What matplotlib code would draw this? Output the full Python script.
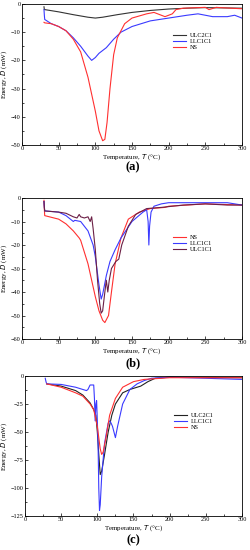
import matplotlib
matplotlib.use('Agg')
import matplotlib.pyplot as plt
from matplotlib.ticker import MultipleLocator

plt.rcParams['font.family'] = ['Liberation Serif', 'DejaVu Serif']

# ---- panel (a) ----
a_ulc_t = [30, 30.5, 31, 50, 70, 90, 100, 110, 130, 150, 175, 200, 225, 250, 275, 300]
a_ulc_e = [-1, -2, -2, -2.8, -3.8, -4.7, -5, -4.7, -3.8, -3, -2.3, -1.8, -1.5, -1.3, -1.4, -1.5]
a_llc_t = [30, 30.5, 31, 40, 50, 60, 70, 80, 90, 95, 100, 105, 115, 125, 135, 150, 175, 200, 225, 240, 260, 280, 290, 300]
a_llc_e = [-2, -4, -5.5, -7, -8, -9.5, -12, -15, -18.5, -20, -19, -17.5, -15.5, -12.5, -10, -8, -6, -5, -4, -3.5, -4.5, -4.5, -4, -5]
a_ns_t = [30, 31, 40, 50, 60, 70, 80, 90, 100, 105, 110, 113, 116, 120, 125, 130, 140, 150, 170, 180, 190, 195, 200, 205, 210, 220, 250, 255, 265, 270, 300]
a_ns_e = [-6.5, -6.7, -7, -8, -9.5, -12.5, -17, -26, -38, -45, -48.5, -48, -42, -30, -18, -12, -7, -5, -3.5, -3, -4, -4.5, -4, -3.5, -2, -1.5, -1.2, -2, -1.2, -1.3, -1.7]

# ---- panel (b) ----
b_ns_t = [30, 30.5, 31, 50, 60, 70, 78, 80, 90, 100, 105, 110, 113, 118, 122, 127, 135, 145, 160, 175, 195, 200, 250, 300]
b_ns_e = [-1, -5, -7.5, -9, -11, -14, -17, -18, -28, -42, -48, -52, -53, -50, -40, -28, -17, -9, -6, -4.5, -4, -3.5, -2.5, -3]
b_llc_t = [30, 30.5, 31, 50, 60, 70, 72, 80, 90, 97, 100, 105, 108, 110, 115, 120, 127, 135, 150, 165, 170, 172, 173, 174, 176, 180, 190, 200, 250, 280, 300]
b_llc_e = [-1.5, -4, -5.5, -6, -7.5, -10, -9.5, -10, -14, -20, -25, -37, -43, -41, -33, -27, -22, -17, -10, -6, -5, -10, -20, -12, -6, -3.5, -2.5, -2, -2, -2, -3]
b_ulc_t = [30, 30.5, 31, 50, 60, 70, 75, 78, 80, 85, 90, 93, 95, 97, 100, 103, 106, 108, 110, 113, 115, 117, 119, 122, 128, 132, 136, 145, 155, 170, 190, 220, 250, 280, 300]
b_ulc_e = [-1.5, -4, -5.5, -6, -6.5, -8, -8.5, -7, -8, -8.5, -8, -10, -8, -13, -22, -35, -45, -49, -48, -40, -35, -40, -35, -30, -27, -26, -20, -12, -7, -4.5, -4, -3, -2.5, -3, -3]

# ---- panel (c) ----
c_ulc_t = [30, 50, 70, 80, 90, 95, 98, 100, 102, 104, 106, 110, 115, 120, 125, 130, 135, 145, 160, 170, 180, 200, 300]
c_ulc_e = [-7, -9, -13, -17, -24, -30, -35, -50, -70, -88, -85, -70, -50, -35, -25, -20, -15, -12, -9, -5, -2, -1, -1.5]
c_llc_t = [28, 29, 30, 50, 70, 85, 87, 90, 95, 96, 97, 98, 99, 100, 101, 102, 103, 104, 106, 110, 115, 117, 119, 121, 123, 125, 128, 135, 145, 155, 165, 175, 200, 300]
c_llc_e = [-2, -5, -7, -7.5, -10, -13, -12, -8, -8, -20, -40, -25, -22, -40, -60, -100, -120, -115, -90, -60, -42, -40, -42, -45, -50, -55, -45, -25, -12, -7, -4, -2, -1, -3]
c_ns_t = [30, 50, 70, 80, 90, 95, 100, 104, 106, 108, 112, 117, 125, 135, 150, 165, 200, 300]
c_ns_e = [-7, -10, -15, -18, -25, -30, -45, -65, -70, -68, -55, -35, -20, -10, -5, -3, -1.5, -1.5]

fig = plt.figure(figsize=(2.51, 5.5), dpi=100)

def style(ax, ylim, ystep, yminor):
    ax.set_xlim(0, 300)
    ax.set_ylim(*ylim)
    ax.xaxis.set_major_locator(MultipleLocator(50))
    ax.xaxis.set_minor_locator(MultipleLocator(25))
    ax.yaxis.set_major_locator(MultipleLocator(ystep))
    ax.yaxis.set_minor_locator(MultipleLocator(yminor))
    ax.tick_params(which='both', direction='in', labelsize=4.5, pad=1, width=0.5)
    ax.tick_params(which='major', length=2.5)
    ax.tick_params(which='minor', length=1.5)
    for s in ax.spines.values():
        s.set_linewidth(0.6)
    ax.set_xlabel('Temperature, $\\it{T}$ (°C)', fontsize=5, labelpad=0.5)
    ax.set_ylabel('Energy, $\\it{D}$ (mW)', fontsize=5, labelpad=1)

lw = 0.8

ax1 = fig.add_axes([0.0876, 0.7364, 0.8765, 0.2564])
ax1.plot(a_ulc_t, a_ulc_e, color='#333333', lw=lw, label='ULC2C1')
ax1.plot(a_llc_t, a_llc_e, color='#3a3aff', lw=lw, label='LLC1C1')
ax1.plot(a_ns_t, a_ns_e, color='#ff3030', lw=lw, label='NS')
style(ax1, (-50, 0), 10, 5)
ax1.legend(loc='upper left', bbox_to_anchor=(0.67, 0.82), fontsize=4.5, frameon=False,
           handlelength=2.2, labelspacing=0.1, borderpad=0, handletextpad=0.6)
fig.text(0.53, 0.696, '(a)', ha='center', va='center', fontsize=9, fontweight='bold')

ax2 = fig.add_axes([0.0876, 0.3836, 0.8765, 0.2564])
ax2.plot(b_ns_t, b_ns_e, color='#ff3030', lw=lw, label='NS')
ax2.plot(b_llc_t, b_llc_e, color='#3a3aff', lw=lw, label='LLC1C1')
ax2.plot(b_ulc_t, b_ulc_e, color='#6b1f45', lw=lw, label='ULC1C1')
style(ax2, (-60, 0), 10, 5)
ax2.legend(loc='upper left', bbox_to_anchor=(0.67, 0.76), fontsize=4.5, frameon=False,
           handlelength=2.2, labelspacing=0.1, borderpad=0, handletextpad=0.6)
fig.text(0.53, 0.340, '(b)', ha='center', va='center', fontsize=9, fontweight='bold')

ax3 = fig.add_axes([0.0996, 0.0618, 0.8645, 0.2545])
ax3.plot(c_ulc_t, c_ulc_e, color='#222222', lw=lw, label='ULC2C1')
ax3.plot(c_llc_t, c_llc_e, color='#3a3aff', lw=lw, label='LLC1C1')
ax3.plot(c_ns_t, c_ns_e, color='#ff3030', lw=lw, label='NS')
style(ax3, (-125, 0), 25, 12.5)
ax3.legend(loc='upper left', bbox_to_anchor=(0.67, 0.76), fontsize=4.5, frameon=False,
           handlelength=2.2, labelspacing=0.1, borderpad=0, handletextpad=0.6)
fig.text(0.53, 0.018, '(c)', ha='center', va='center', fontsize=9, fontweight='bold')

plt.savefig('out.png', dpi=100)
